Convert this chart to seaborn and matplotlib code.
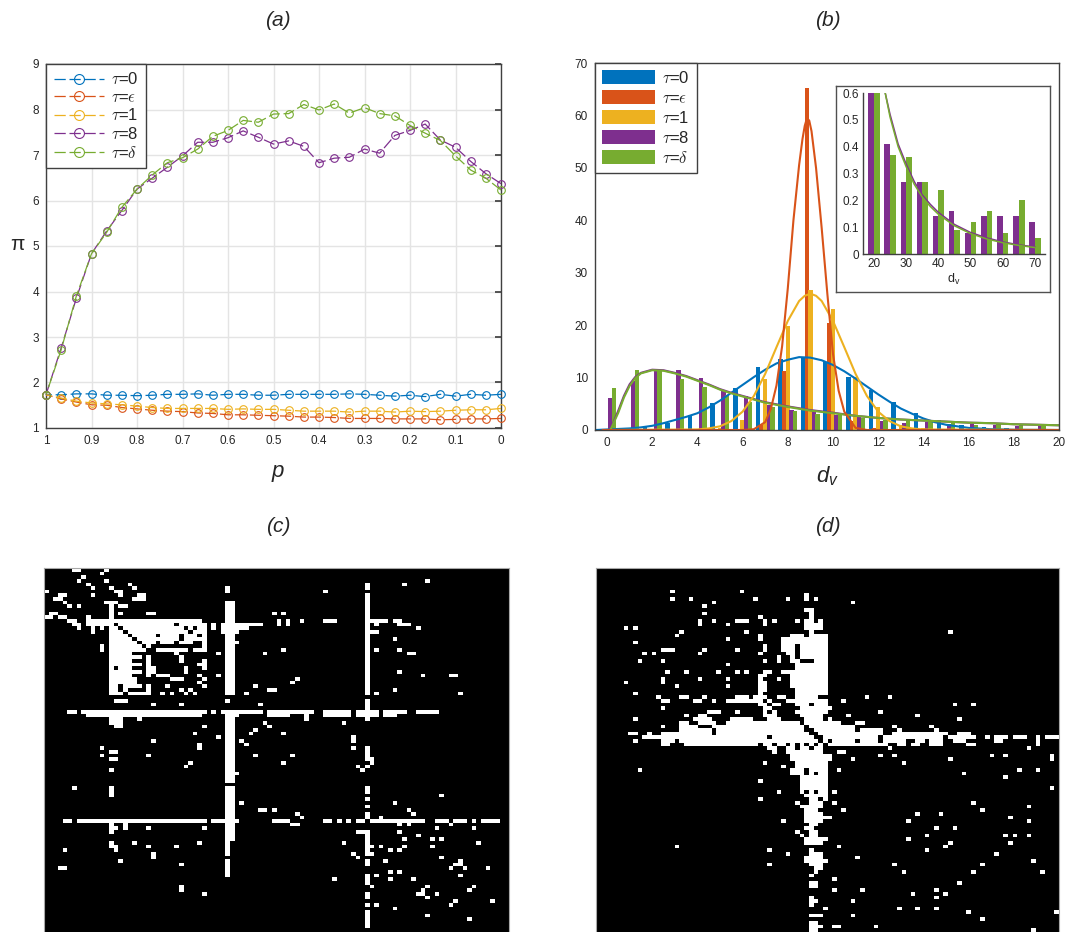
import numpy as np
import pandas as pd
import seaborn as sns
import matplotlib
matplotlib.use("Agg")
import matplotlib.pyplot as plt

W, H = 1075, 932
TAU = [r'$\tau$=0', r'$\tau$=$\epsilon$', r'$\tau$=1', r'$\tau$=8', r'$\tau$=$\delta$']
COLORS = ['#0072BD', '#D95319', '#EDB120', '#7E2F8E', '#77AC30']

# panel (a)
P_VALUES = [1 - i / 30 for i in range(31)]
PI_TAU0 = [1.73,1.73,1.75,1.75,1.72,1.72,1.71,1.72,1.74,1.74,1.75,1.72,1.74,1.74,1.72,1.72,
           1.74,1.74,1.74,1.74,1.75,1.74,1.72,1.70,1.72,1.69,1.74,1.70,1.74,1.72,1.74]
PI_EPS = [1.73,1.64,1.57,1.51,1.50,1.45,1.42,1.39,1.37,1.36,1.33,1.32,1.29,1.29,1.28,1.27,
          1.26,1.24,1.24,1.23,1.21,1.21,1.21,1.20,1.20,1.20,1.18,1.19,1.20,1.20,1.21]
PI_TAU1 = [1.73,1.66,1.59,1.55,1.53,1.51,1.48,1.45,1.43,1.43,1.43,1.43,1.41,1.42,1.41,1.41,
           1.39,1.37,1.37,1.37,1.35,1.37,1.37,1.35,1.37,1.36,1.37,1.39,1.40,1.40,1.43]
PI_TAU8 = [1.73,2.76,3.85,4.83,5.33,5.78,6.25,6.49,6.73,6.98,7.28,7.28,7.38,7.53,7.39,7.24,
           7.31,7.19,6.83,6.93,6.95,7.13,7.04,7.43,7.54,7.68,7.33,7.17,6.86,6.59,6.37]
PI_DELTA = [1.73,2.72,3.90,4.83,5.30,5.85,6.25,6.56,6.83,6.94,7.13,7.41,7.54,7.76,7.72,7.90,
            7.91,8.11,7.99,8.12,7.92,8.04,7.91,7.86,7.65,7.48,7.32,6.98,6.67,6.49,6.23]

# panel (b), bars
DEGREES = list(range(21))
BAR_TAU0 = [0,0.1,0.5,1.3,2.8,5.2,8.1,12,13.6,13.9,13,10.2,7.6,5.4,3.2,2,0.9,0.5,0.4,0.2,0.1]
BAR_EPS = [0,0,0,0,0,0,0,0.9,11.2,65.3,20.5,1.8,0.3,0,0,0,0,0,0,0,0]
BAR_TAU1 = [0,0,0,0,0,0.4,1.9,9.8,19.8,26.7,23,10.1,4.3,0.9,0.3,0,0,0,0,0,0]
BAR_TAU8 = [6.1,9.4,11.2,11.4,9.9,7.7,6.5,4.7,3.9,3.4,2.8,2.4,1.8,1.4,1.5,1.1,1.1,1,0.8,0.8,0.7]
BAR_DELTA = [8,11.5,11.2,9.8,8.2,6.6,5.4,4.4,3.7,3,3,2.2,2,1.9,1.6,1.4,0.9,1.1,0.9,0.8,0.7]

# panel (b), fitted curves
FIT_X_TAU0 = [-0.5,0,0.5,1,1.5,2,2.5,3,3.5,4,4.5,5,5.5,6,6.5,7,7.5,8,8.5,9,9.5,10,10.5,11,11.5,
              12,12.5,13,13.5,14,14.5,15,15.5,16,17,18,20]
FIT_Y_TAU0 = [0,0.1,0.2,0.3,0.5,0.8,1.3,1.9,2.5,3.2,4.3,5.6,7.1,8.6,10.1,11.5,12.7,13.4,13.9,13.8,
              13.3,12.4,11.2,9.8,8.3,6.8,5.4,4.1,3.1,2.2,1.5,1,0.7,0.4,0.15,0.05,0]
FIT_X_EPS = [-0.2,6,6.5,7,7.25,7.5,7.75,8,8.25,8.5,8.65,8.75,8.85,8.95,9.05,9.25,9.5,9.75,10,10.25,10.5,11,11.5,20]
FIT_Y_EPS = [0,0,0.15,1.5,4,8.5,16,27,40,50.5,55.5,58,59.5,59,57,50,38.5,26,14.5,7.5,3.5,0.4,0,0]
FIT_X_TAU1 = [0,4,4.5,5,5.5,6,6.5,7,7.5,8,8.5,8.75,9,9.25,9.5,10,10.5,11,11.5,12,12.5,13,13.5,14,20]
FIT_Y_TAU1 = [0,0.1,0.3,0.7,1.7,3.5,6.5,10.7,15.8,20.8,24.6,25.6,26,25.6,24.6,20.8,15.8,10.7,6.5,3.5,1.7,0.7,0.3,0.1,0]
FIT_X_TAIL = [0.15,0.3,0.5,0.75,1,1.25,1.5,2,2.5,3,3.5,4,4.5,5,5.5,6,6.5,7,8,9,10,11,12,13,14,15,16,17,18,19,20]
FIT_Y_TAU8 = [0,1.6,3.7,6.5,8.7,10.1,10.9,11.5,11.4,10.9,10.3,9.5,8.7,7.8,7.1,6.5,5.9,5.3,4.5,3.8,3.3,2.7,2.3,2,1.8,1.6,1.4,1.3,1.1,1,0.9]
FIT_Y_DELTA = [0,1.4,3.3,6.2,8.4,9.9,10.8,11.4,11.3,10.8,10.2,9.4,8.6,7.7,7,6.4,5.8,5.2,4.4,3.7,3.2,2.7,2.3,2,1.8,1.6,1.4,1.3,1.1,1,0.9]

# inset of (b)
TAIL_DEGREES = [20,25,30,35,40,45,50,55,60,65,70]
TAIL_TAU8 = [0.6,0.41,0.27,0.27,0.14,0.16,0.08,0.14,0.14,0.14,0.12]
TAIL_DELTA = [0.6,0.37,0.36,0.27,0.24,0.09,0.12,0.16,0.08,0.20,0.06]
TAIL_FIT_X = [23.5,25,27.5,30,32.5,35,37.5,40,45,50,55,60,65,70]
TAIL_FIT_TAU8 = [0.6,0.52,0.41,0.335,0.27,0.22,0.185,0.155,0.11,0.08,0.06,0.045,0.034,0.026]
TAIL_FIT_DELTA = [0.6,0.51,0.40,0.325,0.26,0.212,0.177,0.148,0.105,0.076,0.056,0.042,0.032,0.024]

# panel (c): runs along a row (row, first col, last col), along a col (col, first row, last row), single cells (row, col)
C_ROW_RUNS = [
    (0,6,7),(7,3,4),(8,2,3),(7,20,21),(8,19,21),(9,13,15),(12,1,2),(12,22,23),(13,0,1),(13,3,4),
    (14,5,6),(14,9,33),(15,6,7),(15,9,14),(15,16,27),(15,29,34),(15,38,46),
    (16,7,7),(16,10,10),(16,12,12),(16,14,15),(16,17,29),(16,31,31),(16,33,34),(16,38,43),
    (17,10,10),(17,14,16),(17,18,30),(17,32,34),(17,38,41),
    (18,14,17),(18,19,23),(18,25,28),(18,30,32),(18,34,34),(19,14,18),(19,20,28),(19,30,33),(19,34,34),
    (20,14,19),(20,21,23),(20,25,27),(20,29,31),(20,34,34),(20,41,41),(21,14,20),(21,22,22),(21,34,34),
    (22,14,21),(22,24,30),(22,32,34),(23,14,18),(24,14,20),(25,14,18),(26,14,20),(26,33,34),
    (27,14,14),(27,16,18),(28,14,20),(29,14,18),(29,24,26),(30,14,19),(30,27,29),
    (31,14,19),(32,14,15),(32,17,20),(33,14,15),(33,17,17),(33,48,49),
    (34,14,16),(34,18,22),(36,15,17),
    (39,5,6),(39,8,34),(40,9,33),(39,38,46),(40,39,41),(39,48,53),(39,54,57),(40,48,52),(39,60,65),(40,60,65),
    (39,67,71),(40,67,71),(39,73,77),(40,73,75),(39,80,84),
    (41,14,16),(42,14,16),(43,15,16),(50,14,15),(52,14,15),(66,46,47),
    (69,4,5),(69,7,34),(69,36,38),(69,39,41),(69,49,52),(70,53,54),(69,60,61),(69,67,68),(69,70,79),
    (69,80,81),(69,84,86),(69,88,90),(69,94,97),(82,3,4),(14,60,62),(14,70,73),(14,75,76),(15,76,78),
    (17,70,71),(23,78,79),(29,87,88),(33,48,49),(89,80,81),
]
C_COL_RUNS = [
    (39,5,6),(39,9,34),(40,9,34),(14,9,14),(36,15,16),(22,24,29),(22,32,34),(23,27,28),(30,27,28),(29,24,25),
    (10,16,17),(12,21,22),(50,14,15),(52,14,15),(69,4,5),(69,7,34),(69,36,41),(20,40,41),(56,40,41),
    (39,41,49),(40,41,49),(33,48,49),(66,46,47),(39,49,58),(40,49,58),(39,60,66),(40,60,66),(39,67,74),(40,67,74),
    (39,75,78),(39,80,84),(14,60,62),(14,70,72),(17,70,71),(14,75,76),(15,76,77),(23,78,79),(29,87,88),
    (69,49,52),(70,52,53),(69,60,61),(69,67,68),(69,72,78),(69,80,81),(69,84,86),(69,89,90),(69,94,98),
]
C_CELLS = [
    (0,13),(1,12),(2,8),(3,7),(3,13),(4,9),(5,10),(4,18),(5,19),(5,14),(6,15),(6,16),(6,0),(7,10),(7,16),
    (9,4),(10,5),(10,7),(10,16),(10,17),(12,16),(13,9),(23,28),(23,37),(23,47),(25,34),(27,34),(29,33),(29,37),
    (30,34),(31,33),(32,34),(32,26),(33,29),(33,31),(34,25),(34,27),(34,30),(34,32),(32,45),(34,43),(36,39),
    (37,23),(37,29),(37,46),(39,36),(43,34),(45,32),(46,37),(47,23),(49,12),(51,12),(51,22),(42,47),(43,48),
    (44,45),(45,44),(47,42),(48,43),(51,45),(53,31),(54,30),(55,14),(60,6),(56,41),(64,42),(66,49),
    (12,49),(12,51),(14,55),(6,60),(4,77),(3,82),(15,71),(16,80),(19,75),(22,51),(22,71),(22,76),(28,76),(29,81),
    (30,54),(31,53),(33,75),(34,71),(34,89),(41,56),(41,69),(42,64),(43,48),(45,51),(49,66),(49,69),(51,53),(53,51),
    (54,67),(55,68),(54,69),(63,69),(65,69),(64,75),(66,78),(67,79),(62,85),(67,54),(68,55),(68,72),
    (69,63),(69,65),(69,92),(70,76),(70,78),(70,87),(71,84),(71,92),(71,14),(71,15),(71,22),(71,34),(72,67),(72,68),(72,76),
    (73,80),(74,77),(74,83),(74,85),(75,64),(75,93),(76,77),(76,83),(76,70),(76,72),(77,74),(77,76),(78,66),(79,67),(78,70),
    (79,85),(80,73),(80,89),(81,88),(81,89),(82,87),(82,90),(82,95),(83,74),(83,76),(84,89),(84,71),(85,62),(85,74),(85,79),
    (87,70),(87,82),(87,92),(88,91),(88,81),(89,84),(90,82),(91,88),(91,96),(92,87),(92,69),(92,71),(93,75),(95,82),(96,91),
    (75,19),(76,22),(76,28),(75,33),(80,16),(81,29),(77,4),(89,34),
]

# panel (d)
D_ROW_RUNS = [
    (14,30,32),(14,45,46),(14,48,48),(15,45,48),(16,45,48),(18,42,44),(18,46,49),(19,41,49),(20,40,49),
    (21,40,42),(21,44,49),(22,40,42),(22,44,49),(22,14,16),(23,41,42),(23,44,49),(24,42,42),(24,44,49),(25,42,43),(25,47,49),
    (26,43,49),(27,43,49),(28,36,37),(28,40,49),(29,35,36),(29,42,49),(30,35,35),(30,42,49),(31,35,36),(31,42,49),
    (32,35,36),(32,42,49),(33,35,36),(33,43,49),(34,35,35),(34,43,49),(35,18,19),(35,30,32),(35,34,36),(35,39,40),
    (35,43,47),(36,14,15),(36,21,22),(36,28,35),(36,37,37),(36,41,49),(37,35,36),(37,38,39),(37,43,45),(37,47,49),
    (38,36,37),(38,44,49),(39,24,26),(39,36,36),(39,38,38),(39,43,49),(40,22,23),(40,36,38),(40,44,48),
    (41,21,24),(41,29,33),(41,37,39),(41,45,48),(42,18,19),(42,22,25),(42,28,43),(42,45,49),
    (43,18,21),(43,25,44),(43,46,49),(44,18,24),(44,26,44),(44,47,49),(45,7,8),(45,14,17),(45,18,24),(45,26,45),(45,48,49),
    (46,10,17),(46,18,36),(46,38,46),(46,49,49),(47,14,16),(47,18,47),(47,49,49),(48,14,15),(48,19,34),(48,36,37),
    (48,39,40),(48,42,42),(48,44,44),(48,46,46),(48,48,48),
    (42,51,52),(42,56,57),(43,50,55),(44,50,55),(44,57,61),(45,50,61),(45,64,75),(45,78,80),
    (46,50,60),(46,62,74),(46,76,81),(46,86,88),(46,90,92),(46,97,99),(47,51,55),(47,57,60),(47,62,66),(47,69,70),(47,72,74),
    (47,77,79),(47,86,87),(48,50,62),(48,65,66),(48,68,69),(48,72,74),(48,80,81),
    (49,37,38),(49,41,42),(49,44,45),(49,47,48),(50,42,48),(51,42,49),(52,42,49),(53,43,49),(54,43,49),
    (55,42,44),(55,46,49),(56,42,43),(56,44,44),(56,46,46),(56,48,49),(57,44,49),(58,44,49),(59,44,49),(60,44,49),
    (61,44,44),(61,46,46),(61,48,49),(62,45,49),(63,46,47),(64,46,48),(65,45,48),(66,45,47),(67,45,48),(68,45,50),(69,45,48),(70,46,47),(71,45,46),
    (72,46,47),(73,46,47),(74,45,49),(75,45,48),(78,46,48),(79,45,48),(80,45,49),(81,46,48),(82,47,48),
    (86,46,47),(87,46,47),(95,46,48),(97,46,47),(98,46,48),(99,46,47),
    (50,52,53),(98,51,52),
]
D_COL_RUNS = [
    (45,7,8),(46,11,14),(22,14,15),(36,14,15),(35,18,19),(36,21,22),(39,24,25),(14,30,31),(50,42,43),(50,51,52),(98,51,52),
    (95,46,48),(46,90,92),
]
D_CELLS = [
    (6,16),(8,16),(8,20),(6,31),(8,34),(8,41),(8,47),(9,25),(10,23),(12,23),(14,25),(15,28),(13,35),(14,38),(14,43),
    (11,45),(16,6),(16,8),(17,18),(18,17),(17,32),(19,28),(19,40),(17,46),(20,8),(22,23),(23,22),(22,30),(23,35),
    (23,10),(23,12),(25,9),(25,14),(25,36),(26,28),(28,15),(28,19),(28,26),(28,30),(28,32),(31,6),(30,14),(31,14),
    (30,22),(30,28),(30,39),(32,17),(32,28),(34,8),(35,13),(36,25),(35,23),(38,14),(40,19),(41,8),(43,14),(47,8),
    (45,11),(46,10),(39,30),(50,38),(50,41),(53,36),(54,40),(58,35),(61,39),(63,35),(69,40),(72,43),(73,44),(77,37),(78,41),
    (81,37),(55,9),(76,17),(64,43),(65,44),(63,49),(84,46),(77,46),(83,47),(91,47),(93,49),
    (9,55),(17,76),(35,58),(35,63),(36,53),(38,50),(37,77),(37,81),(39,61),(40,54),(40,69),(41,78),(41,50),(43,64),(43,72),(44,65),(44,73),
    (46,84),(49,63),(49,93),(51,61),(51,64),(51,85),(51,88),(52,55),(52,76),(53,66),(55,52),(55,91),(55,95),(56,79),(57,88),(60,98),
    (61,51),(64,51),(66,53),(64,81),(66,83),(65,93),(68,89),(67,69),(67,74),(69,67),(69,93),(71,73),(71,77),(73,71),(73,88),(73,90),(73,93),
    (74,67),(75,76),(75,89),(76,52),(76,75),(77,71),(78,86),(79,56),(80,94),(81,64),(81,83),(83,66),(83,81),(83,96),(85,51),(86,78),
    (88,51),(88,57),(88,73),(89,68),(89,75),(90,73),(91,55),(93,65),(93,69),(93,73),(94,80),(94,99),(95,55),(96,83),(98,60),(99,94),
]


def px_axes(fig, left, top, right, bottom):
    """Axes from pixel edges of the reference."""
    return fig.add_axes([left / W, 1 - bottom / H, (right - left) / W, (bottom - top) / H])


def fig_text(fig, x, y, s, **kw):
    fig.text(x / W, 1 - y / H, s, ha='center', va='center', **kw)


def build_matrix(row_runs, col_runs, cells):
    mat = np.zeros((100, 100))
    for r, c0, c1 in row_runs:
        mat[r, c0:c1 + 1] = 1
    for c, r0, r1 in col_runs:
        mat[r0:r1 + 1, c] = 1
    for r, c in cells:
        mat[r, c] = 1
    return mat


def style_axis(ax):
    for side in ax.spines:
        ax.spines[side].set_color('#404040')
        ax.spines[side].set_linewidth(1.0)
    ax.tick_params(which='both', direction='in', color='#404040', labelcolor='#262626', labelsize=8.5, pad=5)


def draw_pi(ax):
    series = [PI_TAU0, PI_EPS, PI_TAU1, PI_TAU8, PI_DELTA]
    for values, label, color in zip(series, TAU, COLORS):
        sns.lineplot(x=P_VALUES, y=values, ax=ax, color=color, label=label, marker='o', markersize=5.5,
                     markerfacecolor='none', markeredgecolor=color, markeredgewidth=0.8,
                     linewidth=0.9, linestyle=(0, (9, 3)), errorbar=None, clip_on=False, zorder=3)
    ax.set_xlim(1, 0)
    ax.set_ylim(1, 9)
    ax.set_xticks([i / 10 for i in range(11)])
    ax.set_xticklabels(['0', '0.1', '0.2', '0.3', '0.4', '0.5', '0.6', '0.7', '0.8', '0.9', '1'])
    ax.set_yticks(range(1, 10))
    ax.grid(True, color='#e4e4e4', linewidth=1.0)
    ax.set_axisbelow(True)
    ax.set_xlabel('')
    ax.set_ylabel('')
    style_axis(ax)
    ax.tick_params(top=False, right=True, length=4)
    leg = ax.legend(loc='upper left', borderaxespad=0, fancybox=False, framealpha=1, edgecolor='#404040',
                    fontsize=12, handlelength=3.0, labelspacing=0.15, markerscale=1.3, borderpad=0.45,
                    handletextpad=0.45)
    leg.set_zorder(10)


def draw_degrees(ax):
    df = pd.DataFrame({
        'd': DEGREES * 5,
        'v': BAR_TAU0 + BAR_EPS + BAR_TAU1 + BAR_TAU8 + BAR_DELTA,
        'tau': [t for t in TAU for _ in DEGREES],
    })
    sns.barplot(data=df, x='d', y='v', hue='tau', hue_order=TAU, palette=COLORS, native_scale=True,
                width=0.8, saturation=1, errorbar=None, linewidth=0, ax=ax)
    # the bars of the original overlap a little
    for bar in ax.patches:
        bar.set_x(bar.get_x() - 0.02)
        bar.set_width(bar.get_width() + 0.04)
    fits = [(FIT_X_TAU0, FIT_Y_TAU0, 0), (FIT_X_TAIL, FIT_Y_TAU8, 3), (FIT_X_TAIL, FIT_Y_DELTA, 4),
            (FIT_X_TAU1, FIT_Y_TAU1, 2), (FIT_X_EPS, FIT_Y_EPS, 1)]
    for xs, ys, idx in fits:
        sns.lineplot(x=xs, y=ys, ax=ax, color=COLORS[idx], linewidth=1.5, errorbar=None, legend=False)
    ax.set_xlim(-0.53, 20)
    ax.set_ylim(0, 70)
    ax.set_xticks(range(0, 21, 2))
    ax.set_xticks([i / 2 for i in range(0, 41)], minor=True)
    ax.set_yticks(range(0, 71, 10))
    ax.set_xlabel('')
    ax.set_ylabel('')
    style_axis(ax)
    ax.tick_params(which='major', length=4)
    ax.tick_params(which='minor', length=2)
    handles, labels = ax.get_legend_handles_labels()
    ax.legend(handles[:5], TAU, loc='upper left', borderaxespad=0, fancybox=False, framealpha=1,
              edgecolor='#404040', fontsize=12, handlelength=3.2, handleheight=0.9, labelspacing=0.25,
              borderpad=0.4, handletextpad=0.45)


def draw_tail(fig):
    frame = px_axes(fig, 836, 86, 1050, 292)
    frame.set_xticks([])
    frame.set_yticks([])
    frame.set_zorder(5)
    for side in frame.spines:
        frame.spines[side].set_color('#505050')
        frame.spines[side].set_linewidth(1.0)

    ax = px_axes(fig, 863, 93, 1045, 254)
    ax.set_zorder(6)
    ax.patch.set_alpha(0)
    df = pd.DataFrame({
        'd': TAIL_DEGREES * 2,
        'v': TAIL_TAU8 + TAIL_DELTA,
        'tau': [t for t in TAU[3:] for _ in TAIL_DEGREES],
    })
    sns.barplot(data=df, x='d', y='v', hue='tau', hue_order=TAU[3:], palette=COLORS[3:], native_scale=True,
                width=0.7, saturation=1, errorbar=None, linewidth=0, legend=False, ax=ax)
    sns.lineplot(x=TAIL_FIT_X, y=TAIL_FIT_TAU8, ax=ax, color=COLORS[3], linewidth=1.1, errorbar=None)
    sns.lineplot(x=TAIL_FIT_X, y=TAIL_FIT_DELTA, ax=ax, color=COLORS[4], linewidth=1.1, errorbar=None)
    ax.set_xlim(16.6, 73.1)
    ax.set_ylim(0, 0.6)
    ax.set_xticks(range(20, 71, 10))
    ax.set_yticks([0, 0.1, 0.2, 0.3, 0.4, 0.5, 0.6])
    ax.set_yticklabels(['0', '0.1', '0.2', '0.3', '0.4', '0.5', '0.6'])
    ax.set_xlabel(r'$\mathregular{d_v}$', fontsize=9, labelpad=1, color='#262626')
    ax.set_ylabel('')
    style_axis(ax)
    ax.spines['top'].set_visible(False)
    ax.spines['right'].set_visible(False)
    ax.tick_params(length=3, pad=3)


def draw_matrix(ax, mat):
    sns.heatmap(mat, ax=ax, cmap=['black', 'white'], vmin=0, vmax=1, cbar=False,
                xticklabels=False, yticklabels=False)
    for side in ('top', 'left', 'right'):
        ax.spines[side].set_visible(True)
        ax.spines[side].set_color('#a8a8a8')
        ax.spines[side].set_linewidth(0.8)


def main():
    sns.set_theme(style='white')
    plt.rcParams['font.family'] = ['Liberation Sans', 'DejaVu Sans']
    plt.rcParams['mathtext.fontset'] = 'cm'

    fig = plt.figure(figsize=(W / 100, H / 100), dpi=100)

    draw_pi(px_axes(fig, 46, 64, 501, 428))
    draw_degrees(px_axes(fig, 595, 63, 1059, 430))
    draw_tail(fig)
    draw_matrix(px_axes(fig, 44, 568, 509, 932), build_matrix(C_ROW_RUNS, C_COL_RUNS, C_CELLS))
    draw_matrix(px_axes(fig, 596, 568, 1059, 932), build_matrix(D_ROW_RUNS, D_COL_RUNS, D_CELLS))

    for x, y, s in [(278, 20, '(a)'), (828, 20, '(b)'), (278, 526, '(c)'), (828, 526, '(d)')]:
        fig_text(fig, x, y, s, style='italic', fontsize=15, color='#262626')
    fig_text(fig, 278, 472, 'p', style='italic', fontsize=16, color='#262626')
    fig_text(fig, 828, 476, r'$\mathregular{d_v}$', style='italic', fontsize=16, color='#262626')
    fig_text(fig, 17, 245, 'π', fontsize=15, color='#262626')

    fig.savefig('out.png', dpi=100)


if __name__ == "__main__":
    main()
